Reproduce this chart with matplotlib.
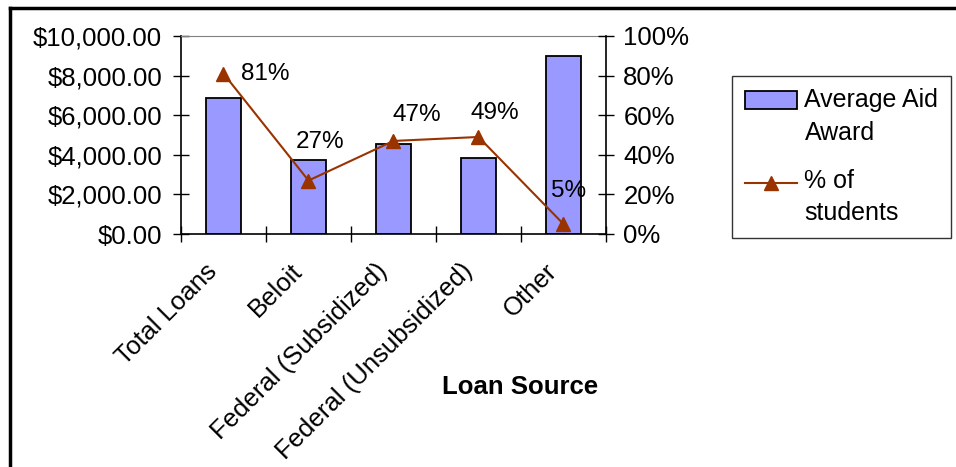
import matplotlib
matplotlib.use("Agg")
import numpy as np
import matplotlib.pyplot as plt
from matplotlib.lines import Line2D
from matplotlib.patches import Patch
from matplotlib.transforms import Affine2D, ScaledTranslation
from matplotlib.legend_handler import HandlerPatch, HandlerLine2D
from matplotlib.ticker import FuncFormatter, PercentFormatter

plt.rcParams['font.family'] = ['Liberation Sans', 'DejaVu Sans']

# 数据
categories = ["Total Loans", "Beloit", "Federal (Subsidized)",
              "Federal (Unsubsidized)", "Other"]
avg_award = [6880, 3760, 4570, 3850, 9000]
pct_students = [81, 27, 47, 49, 5]
pct_labels = ["81%", "27%", "47%", "49%", "5%"]

# 标签偏移（points）
label_offsets = [(30, 0), (8, 28), (17, 19), (12, 17), (4, 24)]

bar_color = "#9999FF"
line_color = "#993300"
LEG_LIFT = 12.5  # 图例句柄上移（points），与第一行文字对齐


# 图例句柄对齐第一行
class RaisedPatch(HandlerPatch):
    def create_artists(self, legend, orig_handle, xdescent, ydescent, width, height, fontsize, trans):
        trans = Affine2D().translate(0, LEG_LIFT) + trans
        return super().create_artists(legend, orig_handle, xdescent, ydescent, width, height, fontsize, trans)


class RaisedLine(HandlerLine2D):
    def create_artists(self, legend, orig_handle, xdescent, ydescent, width, height, fontsize, trans):
        trans = Affine2D().translate(0, LEG_LIFT - 2) + trans
        return super().create_artists(legend, orig_handle, xdescent, ydescent, width, height, fontsize, trans)


fig = plt.figure(figsize=(9.56, 4.67), dpi=100)
W, H = 956, 467
ax = fig.add_axes([181 / W, 1 - 234 / H, (606 - 181) / W, (234 - 36) / H])
ax2 = ax.twinx()

x = np.arange(len(categories))
ax.bar(x, avg_award, width=0.41, color=bar_color, edgecolor="black", linewidth=1.3, zorder=2)
ax.set_xlim(-0.5, len(categories) - 0.5)
ax.set_ylim(0, 10000)
ax.set_yticks(np.arange(0, 10001, 2000))
ax.yaxis.set_major_formatter(FuncFormatter(lambda v, p: "${:,.2f}".format(v)))

# x 轴：刻度在分类边界，标签在中心
ax.set_xticks(np.arange(-0.5, len(categories), 1.0))
ax.set_xticklabels([])
ax.set_xticks(x, minor=True)
ax.set_xticklabels(categories, minor=True, rotation=45, ha="right", va="center",
                   rotation_mode="anchor", fontsize=18.5)
ax.tick_params(axis="x", which="minor", length=0, pad=24)
ax.tick_params(axis="x", which="major", direction="inout", length=12, width=1)
ax.tick_params(axis="y", direction="inout", length=11, width=1, labelsize=18.5, pad=8)
shift = ScaledTranslation(-10 / 100, 0, fig.dpi_scale_trans)
for lab in ax.get_xticklabels(minor=True):
    lab.set_transform(lab.get_transform() + shift)

for s in ["left", "bottom"]:
    ax.spines[s].set_color("black")
    ax.spines[s].set_linewidth(1.2)
ax.spines["top"].set_color("#808080")
ax.spines["right"].set_visible(False)

ax2.plot(x, pct_students, color=line_color, linewidth=1.5, marker="^",
         markersize=10, zorder=3)
ax2.set_ylim(0, 100)
ax2.set_yticks(np.arange(0, 101, 20))
ax2.yaxis.set_major_formatter(PercentFormatter(decimals=0))
ax2.tick_params(axis="y", direction="inout", length=11, width=1, labelsize=18.5, pad=7)
for s in ["left", "top", "bottom"]:
    ax2.spines[s].set_visible(False)
ax2.spines["right"].set_color("black")
ax2.spines["right"].set_linewidth(1.2)

for xi, yi, lab, off in zip(x, pct_students, pct_labels, label_offsets):
    ax2.annotate(lab, (xi, yi), xytext=off, textcoords="offset points",
                 ha="center", va="center", fontsize=17.5)

fig.text(520 / W, 1 - 387 / H, "Loan Source", ha="center", va="center",
         fontsize=18.5, fontweight="bold")

h_bar = Patch(facecolor=bar_color, edgecolor="black", linewidth=1.3)
h_line = Line2D([0], [0], color=line_color, linewidth=1.5, marker="^", markersize=10)
leg = fig.legend([h_bar, h_line], ["Average Aid\nAward", "% of\nstudents"],
                 handler_map={Patch: RaisedPatch(), Line2D: RaisedLine()},
                 loc="upper left", bbox_to_anchor=(732 / W, 1 - 76 / H),
                 fontsize=18, frameon=True, fancybox=False, borderaxespad=0,
                 handlelength=2.1, handletextpad=0.3, labelspacing=0.95,
                 borderpad=0.5)
for t in leg.get_texts():
    t.set_linespacing(1.45)
leg.get_frame().set_edgecolor("black")
leg.get_frame().set_linewidth(1.0)

# 外框（左、上）
fig.add_artist(Line2D([9.5 / W, 9.5 / W], [0, 1 - 7.5 / H], color="black", linewidth=2.5))
fig.add_artist(Line2D([9.5 / W, 1], [1 - 7.5 / H, 1 - 7.5 / H], color="black", linewidth=2.5))

fig.savefig("out.png", dpi=100)
